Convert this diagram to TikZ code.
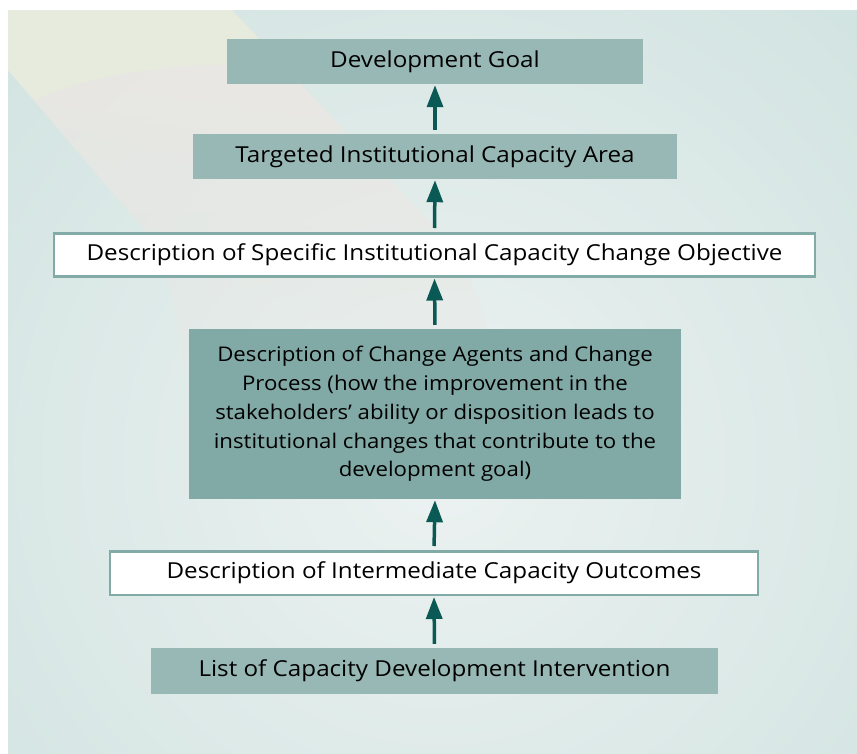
\documentclass[tikz,border=0pt]{standalone}
\usepackage{fontspec}
\setmainfont{Open Sans}[FakeStretch=1.1]
\usetikzlibrary{arrows.meta,fadings}
\definecolor{bgteal}{HTML}{CBE0DD}
\definecolor{glow}{HTML}{ECF2F1}
\definecolor{cream}{HTML}{E7EBDE}
\definecolor{pinkish}{HTML}{ECE7E3}
\definecolor{boxfill}{HTML}{98B8B5}
\definecolor{boxdark}{HTML}{81A9A6}
\definecolor{boxline}{HTML}{82AAA7}
\definecolor{arrowc}{HTML}{0B5954}
\tikzfading[name=bandfade, top color=transparent!0, middle color=transparent!5, bottom color=transparent!100]
\begin{document}
\begin{tikzpicture}[x=1pt,y=-1pt,
  txt/.style={inner sep=0pt, text=black, font=\fontsize{22}{28.7}\selectfont, align=center},
  graybox/.style={txt, fill=boxfill},
  darkbox/.style={txt, fill=boxdark, font=\fontsize{20.2}{28.7}\selectfont},
  whitebox/.style={txt, fill=white, draw=boxline, line width=2.5pt},
  arr/.style={draw=arrowc, line width=3.5pt, -{Triangle[width=16pt,length=22pt]}, shorten <=4pt, shorten >=1pt}]
\useasboundingbox (0,0) rectangle (857,753);
\fill[white] (0,0) rectangle (857,753);
\begin{scope}
  \clip (8,10) rectangle (857,753);
  \fill[bgteal] (8,10) rectangle (857,753);
  \shade[inner color=glow, outer color=bgteal] (440,460) circle (760pt);
  \fill[pinkish, path fading=bandfade] (8,70) -- (8,10) -- (232,10) -- (440,232)
     .. controls (478,275) and (498,340) .. (502,440) -- (190,440)
     .. controls (186,360) and (176,290) .. (150,236) -- cycle;
  \fill[cream] (8,10) -- (232,10) -- (285,66) .. controls (200,60) and (100,70) .. (35,100) -- (8,70) -- cycle;
\end{scope}
\node[graybox, minimum width=416pt, minimum height=45pt] (goal) at (435,61.5) {Development Goal};
\node[graybox, minimum width=484pt, minimum height=45pt] (target) at (435,156.5) {Targeted Institutional Capacity Area};
\node[whitebox, minimum width=761pt, minimum height=43pt] (spec) at (434.5,254.75) {Description of Specific Institutional Capacity Change Objective};
\node[darkbox, minimum width=492pt, minimum height=170pt] (agents) at (435,414) {Description of Change Agents and Change\\Process (how the improvement in the\\stakeholders' ability or disposition leads to\\institutional changes that contribute to the\\development goal)};
\node[whitebox, minimum width=648pt, minimum height=43.5pt] (inter) at (434,573) {Description of Intermediate Capacity Outcomes};
\node[graybox, minimum width=567pt, minimum height=45.5pt] (list) at (434.5,670.75) {List of Capacity Development Intervention};
\draw[arr] (target.north) -- (goal.south);
\draw[arr] (spec.north) -- (target.south);
\draw[arr] (agents.north) -- (spec.south);
\draw[arr] (inter.north) -- (agents.south);
\draw[arr] (list.north) -- (inter.south);
\end{tikzpicture}
\end{document}
